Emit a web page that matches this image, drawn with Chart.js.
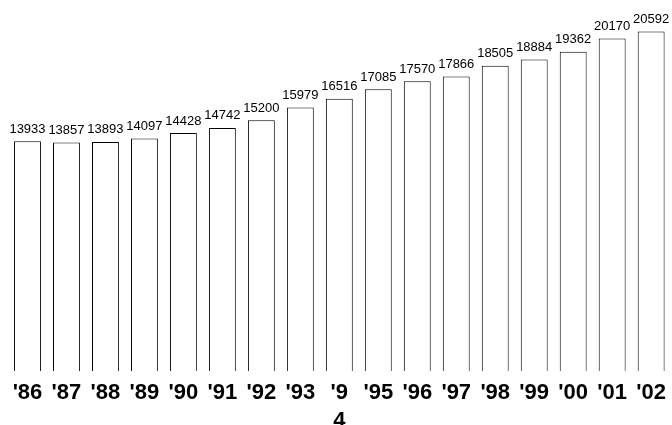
<!DOCTYPE html>
<html>
<head>
<meta charset="utf-8">
<script src="https://cdn.jsdelivr.net/npm/chart.js@4/dist/chart.umd.min.js"></script>
<style>
  html, body { margin: 0; padding: 0; background: #fff; overflow: hidden; }
  canvas { display: block; }
</style>
</head>
<body>
<canvas id="myChart" width="674" height="443"></canvas>
<script>
// Years shown under the bars ('94 wraps onto two lines in the original)
const years = ["'86", "'87", "'88", "'89", "'90", "'91", "'92", "'93", ["'9", "4"],
  "'95", "'96", "'97", "'98", "'99", "'00", "'01", "'02"];
// Value of each bar
const values = [13933, 13857, 13893, 14097, 14428, 14742, 15200, 15979, 16516,
  17085, 17570, 17866, 18505, 18884, 19362, 20170, 20592];

// Draws the number above every bar
const valueLabels = {
  id: 'valueLabels',
  afterDatasetsDraw(chart) {
    const c = chart.ctx;
    const meta = chart.getDatasetMeta(0);
    c.save();
    c.fillStyle = '#000';
    c.font = '13px "Liberation Sans", Arial, sans-serif';
    c.textAlign = 'center';
    c.textBaseline = 'alphabetic';
    meta.data.forEach(function(bar, i) {
      c.fillText(String(chart.data.datasets[0].data[i]), bar.x, bar.y - 8.5);
    });
    c.restore();
  }
};

const ctx = document.getElementById('myChart');
new Chart(ctx, {
  type: 'bar',
  data: {
    labels: years,
    datasets: [{
      data: values,
      backgroundColor: '#ffffff',
      borderColor: '#000000',
      borderWidth: 1,
      barPercentage: 0.69,
      categoryPercentage: 1
    }]
  },
  options: {
    animation: false,
    responsive: false,
    layout: { padding: { left: 8, right: 0, top: 0, bottom: 0 } },
    plugins: {
      legend: { display: false },
      tooltip: { enabled: false }
    },
    scales: {
      x: {
        grid: { display: false, drawTicks: false },
        border: { display: false },
        ticks: {
          color: '#000',
          padding: 8,
          autoSkip: false,
          maxRotation: 0,
          minRotation: 0,
          font: { family: '"Liberation Sans", Arial, sans-serif', size: 22, weight: 'bold', lineHeight: '28px' }
        }
      },
      y: {
        display: false,
        min: 0,
        max: 22500
      }
    }
  },
  plugins: [valueLabels]
});
</script>
</body>
</html>
